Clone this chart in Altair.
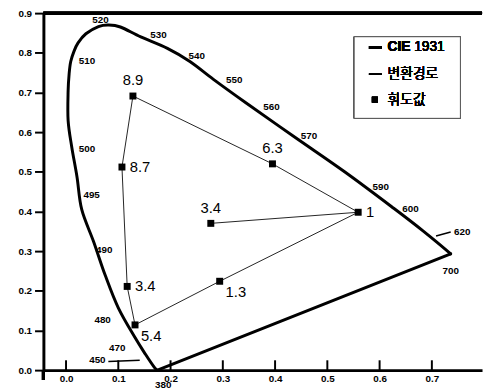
import altair as alt
import pandas as pd

# ---- CIE 1931 spectral locus, 380 nm -> 700 nm ----
locus_x = [0.175, 0.169, 0.152, 0.132, 0.100, 0.075, 0.053, 0.030, 0.021, 0.011,
           0.004, 0.004, 0.006, 0.009, 0.015, 0.023, 0.038, 0.062, 0.081, 0.104,
           0.143, 0.194, 0.237, 0.282, 0.344, 0.438, 0.533, 0.627, 0.683, 0.736]
locus_y = [0.000, 0.007, 0.040, 0.082, 0.157, 0.239, 0.323, 0.405, 0.487, 0.562,
           0.629, 0.704, 0.748, 0.778, 0.803, 0.825, 0.848, 0.866, 0.870, 0.865,
           0.840, 0.811, 0.778, 0.733, 0.674, 0.587, 0.500, 0.408, 0.351, 0.293]
# line of purples (700 nm back to 380 nm)
purple_x = [0.736, 0.175]
purple_y = [0.293, 0.000]

# wavelength labels
wl_text = ["520", "530", "540", "550", "560", "570", "590", "600", "620", "700",
           "510", "500", "495", "490", "480", "470", "450", "380"]
wl_x = [0.066, 0.177, 0.250, 0.322, 0.393, 0.465, 0.602, 0.659, 0.758, 0.736,
        0.040, 0.040, 0.049, 0.073, 0.070, 0.098, 0.060, 0.186]
wl_y = [0.883, 0.845, 0.793, 0.731, 0.664, 0.589, 0.462, 0.405, 0.348, 0.251,
        0.778, 0.557, 0.442, 0.303, 0.127, 0.055, 0.025, -0.038]

# little pointer strokes at 450 and 620 nm
ptr_x = [0.081, 0.708]
ptr_x2 = [0.141, 0.736]
ptr_y = [0.022, 0.338]
ptr_y2 = [0.025, 0.348]

# ---- chromaticity points (휘도값) ----
pt_id = ["p89", "p87", "p34a", "p54", "p13", "p1", "p34b", "p63"]
pt_label = ["8.9", "8.7", "3.4", "5.4", "1.3", "1", "3.4", "6.3"]
pt_x = [0.128, 0.107, 0.117, 0.132, 0.294, 0.559, 0.277, 0.395]
pt_y = [0.691, 0.512, 0.211, 0.114, 0.224, 0.398, 0.370, 0.520]

# ---- transformation paths (변환경로) ----
path_main = ["p54", "p13", "p1", "p63", "p89", "p87", "p34a", "p54"]
path_branch = ["p34b", "p1"]

x_ticks = [0.0, 0.1, 0.2, 0.3, 0.4, 0.5, 0.6, 0.7]
y_ticks = [0.0, 0.1, 0.2, 0.3, 0.4, 0.5, 0.6, 0.7, 0.8, 0.9]

W, H = 446, 363
xs = alt.Scale(domain=[-0.0433, 0.796], nice=False, zero=False)
ys = alt.Scale(domain=[0, 0.9], nice=False, zero=False)

locus_df = pd.DataFrame({"x": locus_x, "y": locus_y, "i": range(len(locus_x))})
purple_df = pd.DataFrame({"x": purple_x, "y": purple_y, "i": range(len(purple_x))})
wl_df = pd.DataFrame({"t": wl_text, "x": wl_x, "y": wl_y})
ptr_df = pd.DataFrame({"x": ptr_x, "x2": ptr_x2, "y": ptr_y, "y2": ptr_y2})
pts_df = pd.DataFrame({"id": pt_id, "label": pt_label, "x": pt_x, "y": pt_y})
lookup = {k: (x, y) for k, x, y in zip(pt_id, pt_x, pt_y)}
rows = []
for g, seq in (("main", path_main), ("branch", path_branch)):
    for i, k in enumerate(seq):
        rows.append({"g": g, "i": i, "x": lookup[k][0], "y": lookup[k][1]})
path_df = pd.DataFrame(rows)
xt_df = pd.DataFrame({"x": x_ticks})

X = lambda f="x": alt.X(f, type="quantitative", scale=xs,
                        axis=alt.Axis(values=x_ticks, format=".1f", title=None, grid=False,
                                      ticks=False, domainWidth=3, domainColor="black",
                                      labelFont="Liberation Sans", labelFontWeight="bold",
                                      labelFontSize=10, labelColor="black", labelPadding=4))
Y = lambda f="y": alt.Y(f, type="quantitative", scale=ys,
                        axis=alt.Axis(values=y_ticks, format=".1f", title=None, grid=False,
                                      tickSize=9, tickWidth=2, tickColor="black",
                                      domainWidth=3, domainColor="black",
                                      labelFont="Liberation Sans", labelFontWeight="bold",
                                      labelFontSize=10, labelColor="black", labelPadding=3))

locus = alt.Chart(locus_df).mark_line(color="black", strokeWidth=3, interpolate="cardinal",
                                      strokeJoin="round", strokeCap="round").encode(
    x=X(), y=Y(), order="i:Q")
purple = alt.Chart(purple_df).mark_line(color="black", strokeWidth=3, strokeCap="round").encode(
    x=X(), y=Y(), order="i:Q")

wl = alt.Chart(wl_df).mark_text(font="Liberation Sans", fontWeight="bold", fontSize=10,
                                color="black").encode(x=X(), y=Y(), text="t:N")

ptr = alt.Chart(ptr_df).mark_rule(color="black", strokeWidth=1.5).encode(
    x=X(), x2="x2", y=Y(), y2="y2")

paths = alt.Chart(path_df).mark_line(color="#222", strokeWidth=1).encode(
    x=X(), y=Y(), order="i:Q", detail="g:N")

pts = alt.Chart(pts_df).mark_point(shape="square", filled=True, size=50, color="black",
                                   opacity=1).encode(x=X(), y=Y())

lab_font = dict(font="Liberation Sans", fontSize=15, color="black")
lab_above = alt.Chart(pts_df).transform_filter(
    alt.FieldOneOfPredicate(field="id", oneOf=["p89", "p34b", "p63"])
).mark_text(align="center", baseline="middle", dy=-16, **lab_font).encode(x=X(), y=Y(), text="label:N")
lab_right = alt.Chart(pts_df).transform_filter(
    alt.FieldOneOfPredicate(field="id", oneOf=["p87", "p34a", "p1"])
).mark_text(align="left", baseline="middle", dx=8, **lab_font).encode(x=X(), y=Y(), text="label:N")
lab_below = alt.Chart(pts_df).transform_filter(
    alt.FieldOneOfPredicate(field="id", oneOf=["p54", "p13"])
).mark_text(align="left", baseline="middle", dx=6, dy=11, **lab_font).encode(x=X(), y=Y(), text="label:N")

# frame pieces and inward x ticks
xticks = alt.Chart(xt_df).mark_rule(color="black", strokeWidth=2).encode(
    x=X(), y=alt.value(H - 10), y2=alt.value(H))
top_border = alt.Chart(xt_df).mark_rule(color="black", strokeWidth=3).encode(
    x=alt.value(0), x2=alt.value(W), y=alt.value(0))
y_ext = alt.Chart(xt_df).mark_rule(color="black", strokeWidth=3).encode(
    x=alt.value(0), y=alt.value(H), y2=alt.value(H + 10))

# legend
leg_box = alt.Chart(xt_df).mark_rect(fill="white", stroke="#555", strokeWidth=1).encode(
    x=alt.value(316), x2=alt.value(424), y=alt.value(24), y2=alt.value(107))
leg_l1 = alt.Chart(xt_df).mark_rule(color="black", strokeWidth=3).encode(
    x=alt.value(331), x2=alt.value(344), y=alt.value(35))
leg_l2 = alt.Chart(xt_df).mark_rule(color="black", strokeWidth=1).encode(
    x=alt.value(331), x2=alt.value(344), y=alt.value(62))
leg_sq = alt.Chart(xt_df).mark_rect(color="black").encode(
    x=alt.value(334), x2=alt.value(340), y=alt.value(85), y2=alt.value(91))
leg_t1a = alt.Chart(xt_df).mark_text(align="left", baseline="middle", font="Liberation Sans",
                                     fontWeight="bold", fontSize=14, color="black").encode(
    x=alt.value(350), y=alt.value(35), text=alt.value("CIE"))
leg_t1b = alt.Chart(xt_df).mark_text(align="left", baseline="middle", font="Liberation Sans",
                                     fontSize=14, color="black").encode(
    x=alt.value(377), y=alt.value(35), text=alt.value("1931"))
leg_t2 = alt.Chart(xt_df).mark_text(align="left", baseline="middle", font="Noto Sans CJK KR",
                                    fontSize=14, color="black").encode(
    x=alt.value(350), y=alt.value(62), text=alt.value("변환경로"))
leg_t3 = alt.Chart(xt_df).mark_text(align="left", baseline="middle", font="Noto Sans CJK KR",
                                    fontSize=14, color="black").encode(
    x=alt.value(350), y=alt.value(88), text=alt.value("휘도값"))

chart = alt.layer(
    locus, purple, ptr, wl, paths, pts, lab_above, lab_right, lab_below,
    xticks, top_border, y_ext,
    leg_box, leg_l1, leg_l2, leg_sq, leg_t1a, leg_t1b, leg_t2, leg_t3
).properties(
    width=W, height=H,
    padding={"left": 36, "top": 2, "right": 2, "bottom": 17},
    autosize=alt.AutoSizeParams(type="none"),
    background="white"
).configure_view(stroke=None)

chart.save("out.html", embed_options={"renderer": "svg", "actions": False})
